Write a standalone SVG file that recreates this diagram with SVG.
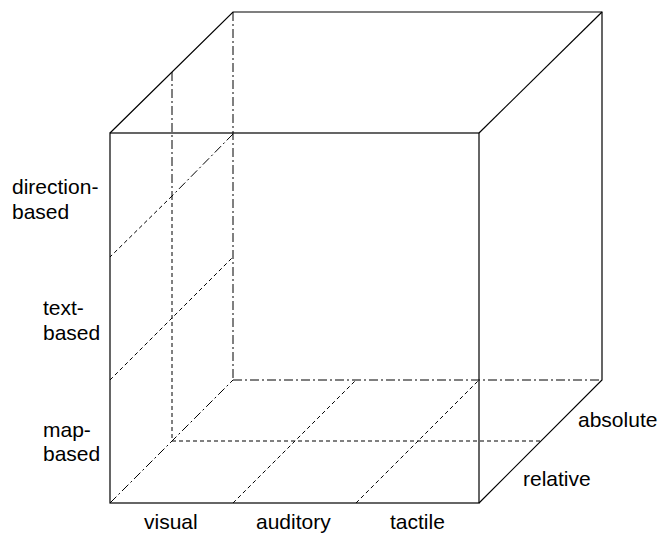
<svg xmlns="http://www.w3.org/2000/svg" width="660" height="534" viewBox="0 0 660 534">
  <style>
    .edge { fill: none; stroke: #000; stroke-width: 1.2; }
    .dash { fill: none; stroke: #000; stroke-width: 1; stroke-dasharray: 4 3; }
    .dashdot { fill: none; stroke: #000; stroke-width: 1; stroke-dasharray: 9 3 2 3; }
    text { font-family: "Liberation Sans", Arial, sans-serif; font-size: 21px; fill: #000; }
  </style>
  <rect width="660" height="534" fill="#fff"/>

  <!-- hidden back edges and inner division lines -->
  <g id="connectors">
    <!-- back vertical edge and back bottom edges -->
    <line class="dashdot" x1="233" y1="12" x2="233" y2="380"/>
    <line class="dashdot" x1="233" y1="380" x2="602" y2="380"/>
    <line class="dashdot" x1="110" y1="503" x2="233" y2="380"/>
    <!-- mid-depth plane -->
    <line class="dashdot" x1="172" y1="72" x2="172" y2="196"/>
    <line class="dash" x1="172" y1="196" x2="172" y2="441"/>
    <line class="dash" x1="172" y1="441" x2="540" y2="441"/>
    <!-- left face divisions -->
    <line class="dashdot" x1="233" y1="134" x2="172" y2="196"/>
    <line class="dash" x1="172" y1="196" x2="110" y2="257"/>
    <line class="dash" x1="110" y1="380" x2="233" y2="257"/>
    <!-- bottom face divisions -->
    <line class="dash" x1="233" y1="503" x2="356" y2="380"/>
    <line class="dash" x1="356" y1="503" x2="479" y2="380"/>
  </g>

  <!-- visible cube edges -->
  <g id="cube">
    <rect class="edge" x="110" y="133" width="369" height="370"/>
    <polyline class="edge" points="110,133 233,12 602,12 602,380 479,503"/>
    <line class="edge" x1="479" y1="133" x2="602" y2="12"/>
  </g>

  <g id="label-direction">
    <text x="12" y="194">direction-</text>
    <text x="12" y="219">based</text>
  </g>
  <g id="label-text">
    <text x="43" y="315">text-</text>
    <text x="43" y="340">based</text>
  </g>
  <g id="label-map">
    <text x="43" y="437">map-</text>
    <text x="43" y="461">based</text>
  </g>
  <g id="label-visual"><text x="144" y="529">visual</text></g>
  <g id="label-auditory"><text x="256" y="529">auditory</text></g>
  <g id="label-tactile"><text x="390" y="529">tactile</text></g>
  <g id="label-absolute"><text x="578" y="427">absolute</text></g>
  <g id="label-relative"><text x="523" y="486">relative</text></g>
</svg>
